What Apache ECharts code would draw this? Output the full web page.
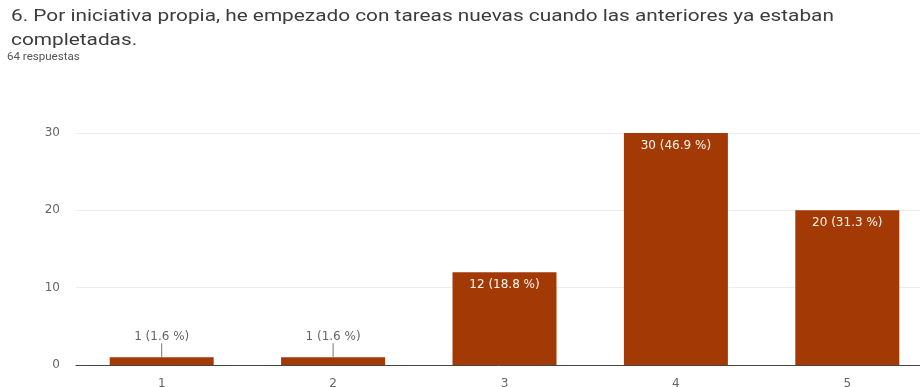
<!DOCTYPE html>
<html>
<head>
<meta charset="utf-8">
<script src="https://cdn.jsdelivr.net/npm/echarts@6/dist/echarts.min.js"></script>
<style>
  html, body { margin: 0; padding: 0; background: #fff; }
  #chart { width: 920px; height: 387px; }
</style>
</head>
<body>
<div id="chart"></div>
<script>
// Survey answers on a 1–5 scale
const categories = ['1', '2', '3', '4', '5'];
const counts = [1, 1, 12, 30, 20];
const totalResponses = 64;
const yTicks = [0, 10, 20, 30];

const questionLine1 = '6. Por iniciativa propia, he empezado con tareas nuevas cuando las anteriores ya estaban';
const questionLine2 = 'completadas.';
const responsesText = totalResponses + ' respuestas';

const barColor = '#a33a05';
const labelFont = 'DejaVu Sans';

function labelText(v) {
  return v + ' (' + (v / totalResponses * 100).toFixed(1) + ' %)';
}

// Short bars get their label above with a small leader; tall bars carry it inside
const barData = counts.map(function (v) {
  if (v < 5) {
    return {
      value: v,
      label: {
        show: true, position: 'top', distance: 14,
        color: '#666', fontSize: 12, fontFamily: labelFont, formatter: labelText(v)
      },
      labelLine: { show: true, lineStyle: { color: '#777', width: 1 } }
    };
  }
  return {
    value: v,
    label: {
      show: true, position: 'insideTop', distance: 7,
      color: '#fff8ee', fontSize: 12, fontFamily: labelFont, formatter: labelText(v)
    }
  };
});

const chart = echarts.init(document.getElementById('chart'));
chart.setOption({
  animation: false,
  graphic: [
    { type: 'text', left: 11, top: 9, scaleX: 1.3, style: { text: questionLine1, font: '16px Roboto', fill: '#3c3c3c' } },
    { type: 'text', left: 11, top: 33, scaleX: 1.3, style: { text: questionLine2, font: '16px Roboto', fill: '#3c3c3c' } },
    { type: 'text', left: 7, top: 52, scaleX: 1.05, style: { text: responsesText, font: '11px Roboto', fill: '#555' } }
  ],
  grid: { left: 76, top: 133, right: -13, bottom: 22, containLabel: false, outerBoundsMode: 'none' },
  xAxis: {
    type: 'category',
    data: categories,
    axisLine: { lineStyle: { color: '#444', width: 1 } },
    axisTick: { show: false },
    axisLabel: { color: '#666', fontSize: 12, fontFamily: labelFont, margin: 13 }
  },
  yAxis: {
    type: 'value',
    min: yTicks[0],
    max: yTicks[yTicks.length - 1],
    interval: yTicks[1] - yTicks[0],
    axisLine: { show: false },
    axisTick: { show: false },
    axisLabel: { color: '#666', fontSize: 12, fontFamily: labelFont, margin: 16 },
    splitLine: { lineStyle: { color: '#ececec', width: 1 } }
  },
  series: [{
    type: 'bar',
    data: barData,
    barWidth: 104,
    itemStyle: { color: barColor },
    labelLayout: function () {
      return {};
    }
  }]
});
</script>
</body>
</html>
